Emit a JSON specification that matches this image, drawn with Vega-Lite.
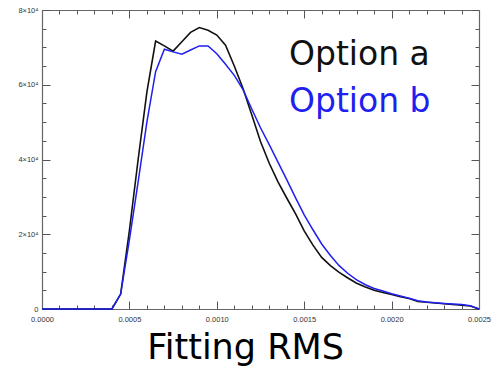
{
  "$schema": "https://vega.github.io/schema/vega-lite/v6.json",
  "width": 437,
  "height": 299,
  "autosize": {"type": "none"},
  "padding": {"left": 42, "top": 10, "right": 16, "bottom": 60},
  "background": "white",
  "config": {"view": {"stroke": null}},
  "data": {"values": [
    {"x": 0.0, "count": 0, "series": "Option a"},
    {"x": 0.0004, "count": 0, "series": "Option a"},
    {"x": 0.00045, "count": 4000, "series": "Option a"},
    {"x": 0.0005, "count": 21000, "series": "Option a"},
    {"x": 0.00055, "count": 40000, "series": "Option a"},
    {"x": 0.0006, "count": 58000, "series": "Option a"},
    {"x": 0.00065, "count": 71700, "series": "Option a"},
    {"x": 0.0007, "count": 70400, "series": "Option a"},
    {"x": 0.00075, "count": 69000, "series": "Option a"},
    {"x": 0.0008, "count": 71500, "series": "Option a"},
    {"x": 0.00085, "count": 74000, "series": "Option a"},
    {"x": 0.0009, "count": 75300, "series": "Option a"},
    {"x": 0.00095, "count": 74600, "series": "Option a"},
    {"x": 0.001, "count": 73300, "series": "Option a"},
    {"x": 0.00105, "count": 70600, "series": "Option a"},
    {"x": 0.0011, "count": 65000, "series": "Option a"},
    {"x": 0.00115, "count": 59000, "series": "Option a"},
    {"x": 0.0012, "count": 52000, "series": "Option a"},
    {"x": 0.00125, "count": 44800, "series": "Option a"},
    {"x": 0.0013, "count": 39000, "series": "Option a"},
    {"x": 0.00135, "count": 34000, "series": "Option a"},
    {"x": 0.0014, "count": 29700, "series": "Option a"},
    {"x": 0.00145, "count": 25500, "series": "Option a"},
    {"x": 0.0015, "count": 20900, "series": "Option a"},
    {"x": 0.00155, "count": 17100, "series": "Option a"},
    {"x": 0.0016, "count": 13800, "series": "Option a"},
    {"x": 0.00165, "count": 11600, "series": "Option a"},
    {"x": 0.0017, "count": 9800, "series": "Option a"},
    {"x": 0.00175, "count": 8300, "series": "Option a"},
    {"x": 0.0018, "count": 6900, "series": "Option a"},
    {"x": 0.00185, "count": 5900, "series": "Option a"},
    {"x": 0.0019, "count": 5000, "series": "Option a"},
    {"x": 0.00195, "count": 4400, "series": "Option a"},
    {"x": 0.002, "count": 3900, "series": "Option a"},
    {"x": 0.00205, "count": 3300, "series": "Option a"},
    {"x": 0.0021, "count": 2800, "series": "Option a"},
    {"x": 0.00215, "count": 2000, "series": "Option a"},
    {"x": 0.0022, "count": 1800, "series": "Option a"},
    {"x": 0.00225, "count": 1600, "series": "Option a"},
    {"x": 0.0023, "count": 1400, "series": "Option a"},
    {"x": 0.00235, "count": 1200, "series": "Option a"},
    {"x": 0.0024, "count": 1000, "series": "Option a"},
    {"x": 0.00245, "count": 800, "series": "Option a"},
    {"x": 0.0025, "count": 0, "series": "Option a"},
    {"x": 0.0, "count": 0, "series": "Option b"},
    {"x": 0.0004, "count": 0, "series": "Option b"},
    {"x": 0.00045, "count": 4000, "series": "Option b"},
    {"x": 0.0005, "count": 18500, "series": "Option b"},
    {"x": 0.00055, "count": 34000, "series": "Option b"},
    {"x": 0.0006, "count": 50000, "series": "Option b"},
    {"x": 0.00065, "count": 63500, "series": "Option b"},
    {"x": 0.0007, "count": 69500, "series": "Option b"},
    {"x": 0.00075, "count": 68800, "series": "Option b"},
    {"x": 0.0008, "count": 68200, "series": "Option b"},
    {"x": 0.00085, "count": 69300, "series": "Option b"},
    {"x": 0.0009, "count": 70400, "series": "Option b"},
    {"x": 0.00095, "count": 70400, "series": "Option b"},
    {"x": 0.001, "count": 68300, "series": "Option b"},
    {"x": 0.00105, "count": 65500, "series": "Option b"},
    {"x": 0.0011, "count": 62500, "series": "Option b"},
    {"x": 0.00115, "count": 58700, "series": "Option b"},
    {"x": 0.0012, "count": 53500, "series": "Option b"},
    {"x": 0.00125, "count": 48500, "series": "Option b"},
    {"x": 0.0013, "count": 44000, "series": "Option b"},
    {"x": 0.00135, "count": 39300, "series": "Option b"},
    {"x": 0.0014, "count": 34600, "series": "Option b"},
    {"x": 0.00145, "count": 29800, "series": "Option b"},
    {"x": 0.0015, "count": 25200, "series": "Option b"},
    {"x": 0.00155, "count": 21200, "series": "Option b"},
    {"x": 0.0016, "count": 17400, "series": "Option b"},
    {"x": 0.00165, "count": 14300, "series": "Option b"},
    {"x": 0.0017, "count": 11600, "series": "Option b"},
    {"x": 0.00175, "count": 9500, "series": "Option b"},
    {"x": 0.0018, "count": 7800, "series": "Option b"},
    {"x": 0.00185, "count": 6500, "series": "Option b"},
    {"x": 0.0019, "count": 5500, "series": "Option b"},
    {"x": 0.00195, "count": 4800, "series": "Option b"},
    {"x": 0.002, "count": 4100, "series": "Option b"},
    {"x": 0.00205, "count": 3500, "series": "Option b"},
    {"x": 0.0021, "count": 2900, "series": "Option b"},
    {"x": 0.00215, "count": 2200, "series": "Option b"},
    {"x": 0.0022, "count": 1900, "series": "Option b"},
    {"x": 0.00225, "count": 1700, "series": "Option b"},
    {"x": 0.0023, "count": 1500, "series": "Option b"},
    {"x": 0.00235, "count": 1350, "series": "Option b"},
    {"x": 0.0024, "count": 1200, "series": "Option b"},
    {"x": 0.00245, "count": 900, "series": "Option b"},
    {"x": 0.0025, "count": 0, "series": "Option b"}
  ]},
  "resolve": {"axis": {"x": "independent", "y": "independent"}},
  "layer": [
    {
      "transform": [{"filter": "datum.series === 'Option b'"}],
      "mark": {"type": "line", "opacity": 0},
      "encoding": {
        "x": {"field": "x", "type": "quantitative",
          "scale": {"domain": [0, 0.0025], "nice": false, "zero": false},
          "axis": {"orient": "bottom", "grid": false, "labels": false, "title": null, "domain": false,
            "values": [0.0001, 0.0002, 0.0003, 0.0004, 0.0006, 0.0007, 0.0008, 0.0009, 0.0011, 0.0012, 0.0013, 0.0014, 0.0016, 0.0017, 0.0018, 0.0019, 0.0021, 0.0022, 0.0023, 0.0024],
            "tickSize": -4, "tickColor": "#555", "tickWidth": 1}},
        "y": {"field": "count", "type": "quantitative",
          "scale": {"domain": [0, 80000], "nice": false},
          "axis": {"orient": "left", "grid": false, "labels": false, "title": null, "domain": false,
            "values": [5000, 10000, 15000, 25000, 30000, 35000, 45000, 50000, 55000, 65000, 70000, 75000],
            "tickSize": -4, "tickColor": "#555", "tickWidth": 1}}
      }
    },
    {
      "transform": [{"filter": "datum.series === 'Option b'"}],
      "mark": {"type": "line", "opacity": 0},
      "encoding": {
        "x": {"field": "x", "type": "quantitative",
          "axis": {"orient": "top", "grid": false, "labels": false, "title": null, "domain": false,
            "values": [0.0001, 0.0002, 0.0003, 0.0004, 0.0006, 0.0007, 0.0008, 0.0009, 0.0011, 0.0012, 0.0013, 0.0014, 0.0016, 0.0017, 0.0018, 0.0019, 0.0021, 0.0022, 0.0023, 0.0024],
            "tickSize": -4, "tickColor": "#555", "tickWidth": 1}},
        "y": {"field": "count", "type": "quantitative",
          "axis": {"orient": "right", "grid": false, "labels": false, "title": null, "domain": false,
            "values": [5000, 10000, 15000, 25000, 30000, 35000, 45000, 50000, 55000, 65000, 70000, 75000],
            "tickSize": -4, "tickColor": "#555", "tickWidth": 1}}
      }
    },
    {
      "transform": [{"filter": "datum.series === 'Option a'"}],
      "mark": {"type": "line", "strokeWidth": 1.6, "interpolate": "linear"},
      "encoding": {
        "x": {"field": "x", "type": "quantitative",
          "axis": {"orient": "bottom", "grid": false,
            "values": [0, 0.0005, 0.001, 0.0015, 0.002, 0.0025],
            "format": ".4f",
            "labelFont": "Liberation Sans", "labelFontSize": 7.5, "labelColor": "#333",
            "labelPadding": 14, "labelFlush": false, "labelOverlap": false,
            "tickSize": -8, "tickColor": "#555", "tickWidth": 1,
            "domainColor": "#666", "domainWidth": 1.2,
            "title": "Fitting RMS", "titleFont": "DejaVu Sans", "titleFontSize": 35, "titleFontWeight": "normal",
            "titleColor": "#000", "titleX": 203, "titleY": 49, "titleBaseline": "alphabetic", "titleAlign": "center"}},
        "y": {"field": "count", "type": "quantitative",
          "axis": {"orient": "left", "grid": false,
            "values": [0, 20000, 40000, 60000, 80000],
            "labelExpr": "datum.value == 0 ? '0' : (datum.value/10000) + '×10⁴'",
            "labelFont": "Liberation Sans", "labelFontSize": 7.5, "labelColor": "#333",
            "labelPadding": 12, "labelFlush": false, "labelOverlap": false,
            "tickSize": -8, "tickColor": "#555", "tickWidth": 1,
            "domainColor": "#666", "domainWidth": 1.2, "title": null}},
        "color": {"field": "series", "type": "nominal",
          "scale": {"domain": ["Option a", "Option b"], "range": ["#111111", "#1f1ff0"]},
          "legend": {"orient": "none", "legendX": 214, "legendY": 28, "title": null,
            "symbolSize": 0, "symbolOpacity": 0, "symbolStrokeWidth": 0, "labelOffset": 0,
            "labelFont": "DejaVu Sans", "labelFontSize": 33, "labelLimit": 400, "rowPadding": 13,
            "encode": {"labels": {"update": {"fill": {"scale": "color", "field": "value"}}}}}}
      }
    },
    {
      "transform": [{"filter": "datum.series === 'Option b'"}],
      "mark": {"type": "line", "strokeWidth": 1.5, "interpolate": "linear"},
      "encoding": {
        "x": {"field": "x", "type": "quantitative",
          "axis": {"orient": "top", "grid": false, "labels": false, "title": null,
            "values": [0, 0.0005, 0.001, 0.0015, 0.002, 0.0025],
            "tickSize": -8, "tickColor": "#555", "tickWidth": 1,
            "domainColor": "#666", "domainWidth": 1.2}},
        "y": {"field": "count", "type": "quantitative",
          "axis": {"orient": "right", "grid": false, "labels": false, "title": null,
            "values": [0, 20000, 40000, 60000, 80000],
            "tickSize": -8, "tickColor": "#555", "tickWidth": 1,
            "domainColor": "#666", "domainWidth": 1.2}},
        "color": {"field": "series", "type": "nominal"}
      }
    }
  ]
}
